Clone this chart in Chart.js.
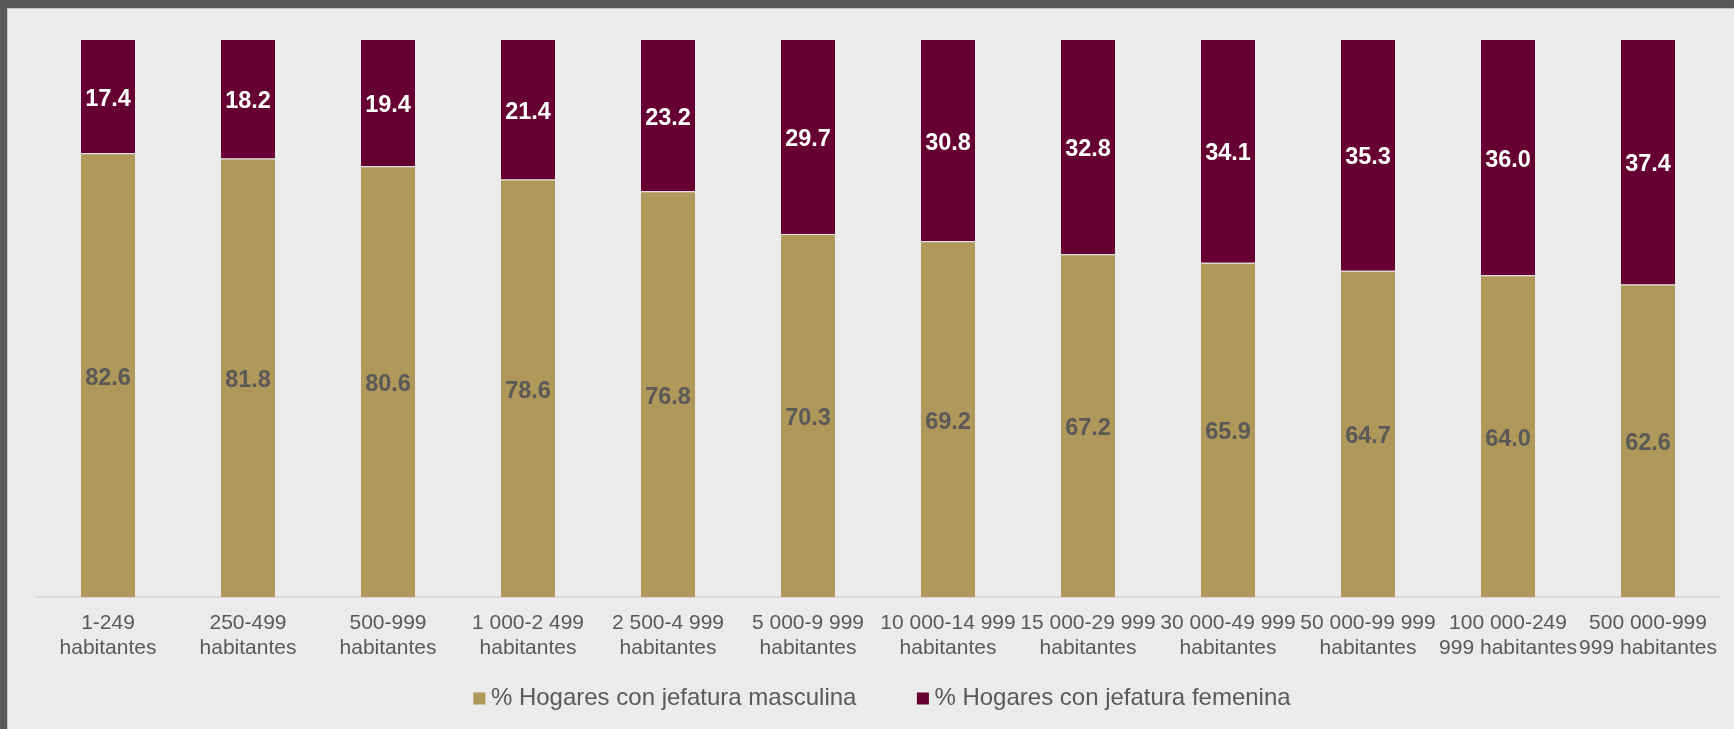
<!DOCTYPE html>
<html>
<head>
<meta charset="utf-8">
<script src="https://cdn.jsdelivr.net/npm/chart.js@4/dist/chart.umd.min.js"></script>
<style>
  html, body { margin: 0; padding: 0; background: #595959; width: 1734px; height: 729px; overflow: hidden; }
  #marco { position: absolute; left: 7px; top: 8px; width: 1726px; height: 720px;
           background: #ebebeb; border-left: 1px solid #c4c4c4; border-top: 1px solid #c4c4c4; }
  canvas { display: block; }
</style>
</head>
<body>
<div id="marco"><canvas id="grafica" width="1726" height="720"></canvas></div>
<script>
// datos
let categorias = [
    ['1-249', 'habitantes'],
    ['250-499', 'habitantes'],
    ['500-999', 'habitantes'],
    ['1 000-2 499', 'habitantes'],
    ['2 500-4 999', 'habitantes'],
    ['5 000-9 999', 'habitantes'],
    ['10 000-14 999', 'habitantes'],
    ['15 000-29 999', 'habitantes'],
    ['30 000-49 999', 'habitantes'],
    ['50 000-99 999', 'habitantes'],
    ['100 000-249', '999 habitantes'],
    ['500 000-999', '999 habitantes']
];
let masculina = [82.6, 81.8, 80.6, 78.6, 76.8, 70.3, 69.2, 67.2, 65.9, 64.7, 64.0, 62.6];
let femenina = [17.4, 18.2, 19.4, 21.4, 23.2, 29.7, 30.8, 32.8, 34.1, 35.3, 36.0, 37.4];
let nombres = ['% Hogares con jefatura masculina', '% Hogares con jefatura femenina'];

const colores = ['#af985a', '#660033'];
const coloresEtiqueta = ['#595959', '#ffffff'];
const fuente = '"Liberation Sans", Arial, sans-serif';

Chart.defaults.font.family = fuente;
Chart.defaults.color = '#595959';

// etiquetas centradas en la parte visible de cada barra
const etiquetas = {
    id: 'etiquetas',
    afterDatasetsDraw(chart) {
        const { ctx, chartArea } = chart;
        ctx.save();
        ctx.font = 'bold 23.5px ' + fuente;
        ctx.textAlign = 'center';
        ctx.textBaseline = 'middle';
        chart.data.datasets.forEach((ds, i) => {
            const meta = chart.getDatasetMeta(i);
            meta.data.forEach((bar, j) => {
                let arriba = Math.max(Math.min(bar.y, bar.base), chartArea.top);
                let abajo = Math.min(Math.max(bar.y, bar.base), chartArea.bottom);
                ctx.fillStyle = coloresEtiqueta[i];
                ctx.fillText(ds.data[j].toFixed(1), bar.x, (arriba + abajo) / 2 + 3);
            });
        });
        ctx.restore();
    }
};

// leyenda dibujada a mano (cuadro pegado al texto)
const leyenda = {
    id: 'leyenda',
    afterDraw(chart) {
        const { ctx, chartArea } = chart;
        ctx.save();
        ctx.font = '24px ' + fuente;
        ctx.textBaseline = 'middle';
        ctx.textAlign = 'left';
        const anchos = nombres.map(t => ctx.measureText(t).width);
        const total = anchos[0] + anchos[1] + 2 * 17.5 + 60.5;
        let x = (chartArea.left + chartArea.right) / 2 + 4 - total / 2;
        const y = 689.5;
        nombres.forEach((t, i) => {
            ctx.fillStyle = colores[i];
            ctx.fillRect(x, y - 6, 12, 12);
            x += 17.5;
            ctx.fillStyle = '#595959';
            ctx.fillText(t, x, y);
            x += anchos[i] + 60.5;
        });
        ctx.restore();
    }
};

const lienzo = document.getElementById('grafica');
new Chart(lienzo, {
    type: 'bar',
    data: {
        labels: categorias,
        datasets: [
            {
                label: nombres[0],
                data: masculina,
                backgroundColor: colores[0],
                borderColor: 'rgba(235,235,235,0.2)',
                borderWidth: 1,
                categoryPercentage: 0.8,
                barPercentage: 0.5
            },
            {
                label: nombres[1],
                data: femenina,
                backgroundColor: colores[1],
                borderColor: 'rgba(235,235,235,0.2)',
                borderWidth: 1,
                categoryPercentage: 0.8,
                barPercentage: 0.5
            }
        ]
    },
    options: {
        responsive: false,
        animation: false,
        layout: {
            padding: { left: 30, right: 16, top: 30, bottom: 62 }
        },
        plugins: {
            legend: { display: false },
            tooltip: { enabled: false }
        },
        scales: {
            x: {
                stacked: true,
                grid: { display: false, drawTicks: false },
                border: { display: true, color: '#d9d9d9', width: 2 },
                ticks: {
                    color: '#595959',
                    padding: 14,
                    maxRotation: 0,
                    autoSkip: false,
                    font: { size: 21, lineHeight: 1.17 }
                },
                afterFit: (eje) => { eje.height = 70; }
            },
            y: {
                stacked: true,
                display: false,
                min: 15,
                max: 100
            }
        }
    },
    plugins: [etiquetas, leyenda]
});
</script>
</body>
</html>
